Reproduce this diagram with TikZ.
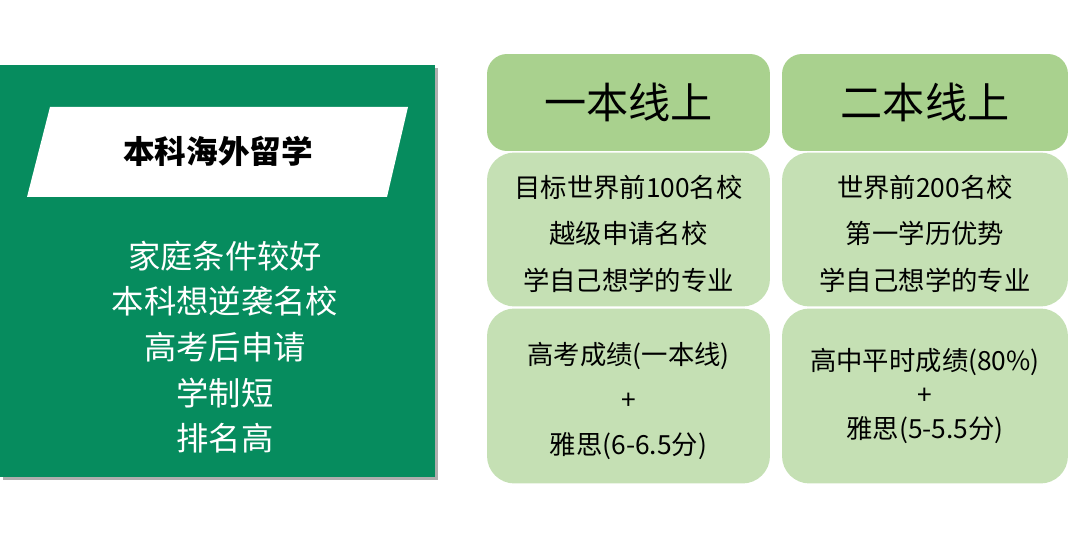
\documentclass[tikz,border=0pt]{standalone}
\usepackage{fontspec}
\setmainfont{Noto Sans CJK SC}
\usetikzlibrary{shadows}

\definecolor{deepgreen}{RGB}{6,140,94}
\definecolor{headgreen}{RGB}{169,209,142}
\definecolor{bodygreen}{RGB}{197,224,180}

\tikzset{
	panel/.style={fill=deepgreen, minimum width=8.7cm, minimum height=8.24cm, inner sep=0pt,
		drop shadow={shadow xshift=1.6pt, shadow yshift=-1.6pt, fill=black!45, opacity=.7}},
	headbox/.style={fill=headgreen, rounded corners=0.4cm, minimum height=1.94cm, inner sep=0pt,
		font=\fontsize{24}{30}\selectfont},
	bodybox/.style={fill=bodygreen, rounded corners=0.55cm, inner sep=0pt},
	boxtext/.style={align=center, inner sep=0pt},
}

\begin{document}
\begin{tikzpicture}[x=0.02cm, y=-0.02cm]
	\useasboundingbox (0,0) rectangle (1080,554);
	% left panel
	\node[panel] (panel) at (217.5,271) {};
	\fill[white] (50,107) -- (408,107) -- (387,197) -- (27,197) -- cycle;
	\node[font=\bfseries\fontsize{18}{20}\selectfont] (title) at (218,151) {本科海外留学};
	\node[text=white, align=center, font=\fontsize{18.4}{26}\selectfont] (reasons) at (225,347)
		{家庭条件较好\\本科想逆袭名校\\高考后申请\\学制短\\排名高};
	
	% first column
	\node[headbox, minimum width=5.66cm] (head1) at (628.5,102.5) {一本线上};
	\node[bodybox, minimum width=5.66cm, minimum height=3.08cm] (mid1) at (628.5,229.5) {};
	\node[bodybox, minimum width=5.66cm, minimum height=3.5cm] (low1) at (628.5,396) {};
	\node[boxtext, font=\fontsize{15}{26.5}\selectfont, yshift=-0.08cm] (mid1text) at (mid1)
		{目标世界前100名校\\越级申请名校\\学自己想学的专业};
	\node[boxtext, font=\fontsize{15}{25.5}\selectfont, yshift=-0.1cm] (low1text) at (low1)
		{高考成绩(一本线)\\+\\雅思(6-6.5分)};
	
	% second column
	\node[headbox, minimum width=5.72cm] (head2) at (925,102.5) {二本线上};
	\node[bodybox, minimum width=5.72cm, minimum height=3.08cm] (mid2) at (925,229.5) {};
	\node[bodybox, minimum width=5.72cm, minimum height=3.5cm] (low2) at (925,396) {};
	\node[boxtext, font=\fontsize{15}{26.5}\selectfont, yshift=-0.08cm] (mid2text) at (mid2)
		{世界前200名校\\第一学历优势\\学自己想学的专业};
	\node[boxtext, font=\fontsize{15}{19.3}\selectfont] (low2text) at (low2)
		{高中平时成绩(80\%)\\+\\雅思(5-5.5分)};
\end{tikzpicture}
\end{document}
